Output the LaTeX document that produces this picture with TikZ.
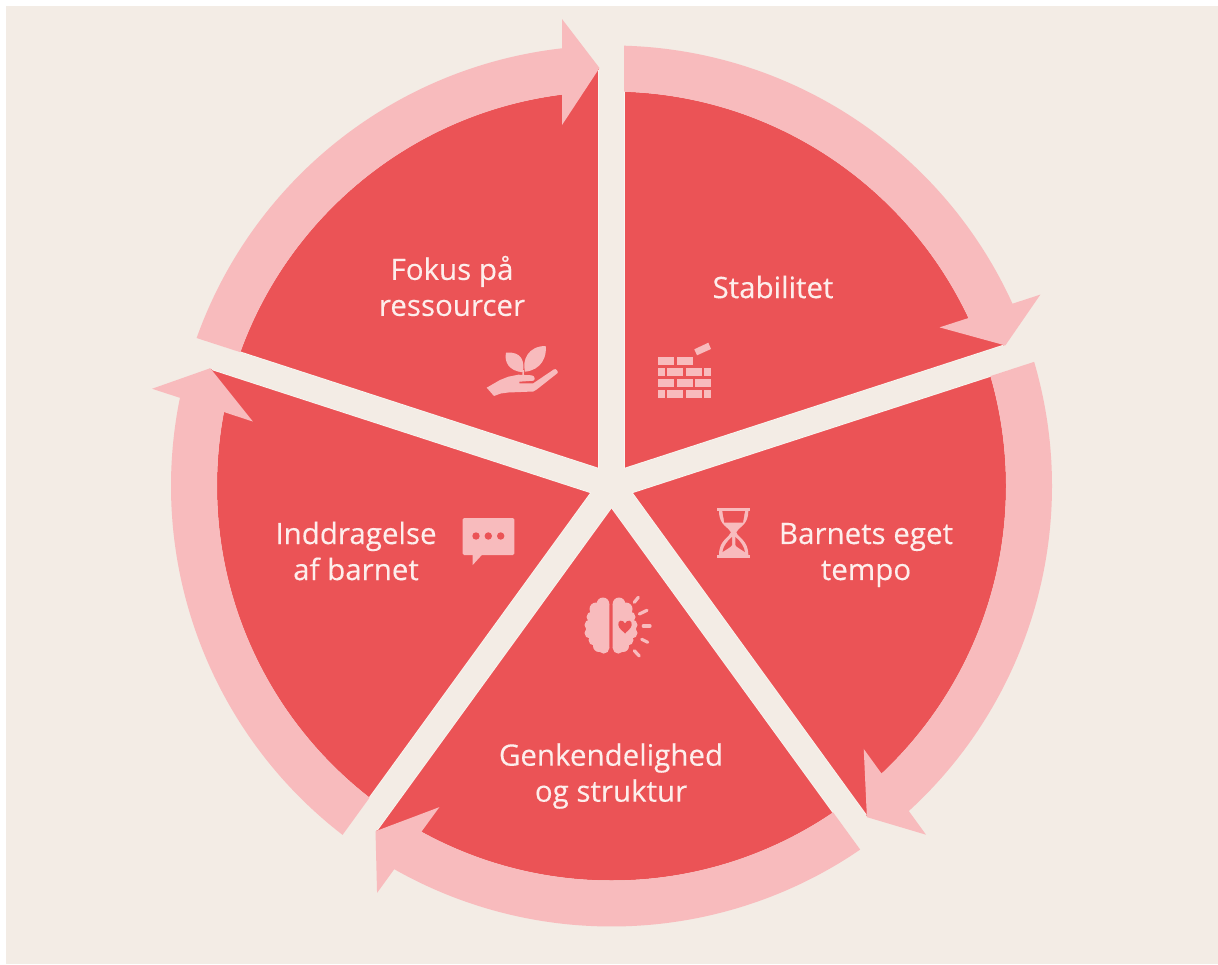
\documentclass[tikz,border=0pt]{standalone}
\usepackage{fontspec}
\setmainfont[FakeBold=0.25]{Open Sans}
\definecolor{paper}{HTML}{F3ECE5}
\definecolor{edge}{HTML}{FAF6F1}
\definecolor{dark}{HTML}{EB5356}
\definecolor{light}{HTML}{F8BBBD}
\definecolor{lettering}{HTML}{FDEEEC}
\tikzset{
  label text/.style={text=lettering, align=center, font=\fontsize{29.5}{36}\selectfont},
  icon/.style={fill=light, draw=none},
  icon hole/.style={fill=dark, draw=none},
  ray/.style={draw=light, line width=3.2pt, line cap=round}
}

\begin{document}
\begin{tikzpicture}[x=1pt, y=-1pt]
  \useasboundingbox (0,0) rectangle (1218,964);
  % paper
  \fill[paper] (6,6) rectangle (1218,964);

  % wheel, y axis points up in here
  \begin{scope}[shift={(611.5,486)}, x=1pt, y=1pt]
    \fill[dark] (0,0) circle (394.5);
    % dark corner under each head
    \foreach \a in {0,72,...,288}
      \fill[dark, rotate=-\a] (-12,419) -- (-12,375) -- (-49.5,361) -- cycle;
    % spokes
    \foreach \a in {18,90,162,234,306}
      \draw[edge, line width=26.5pt] (0,0) -- (\a:416);
    \foreach \a in {18,90,162,234,306}
      \draw[paper, line width=25pt] (0,0) -- (\a:442);
    % ring pieces with their heads
    \foreach \a in {0,72,...,288}
      \fill[light, rotate=-\a] (160.37:440.5) arc (160.37:96.45:440.5)
        -- (-49.5,467) -- (-12,418) -- (-49.5,361)
        -- (97.2:394.5) arc (97.2:160.18:394.5) -- cycle;
  \end{scope}

  % labels
  \node[label text] (fokus) at (452,286) {Fokus på\\ressourcer};
  \node[label text] (stabilitet) at (773,287) {Stabilitet};
  \node[label text] (tempo) at (866,555) {Barnets eget\\tempo};
  \node[label text] (inddragelse) at (356,551) {Inddragelse\\af barnet};
  \node[label text] (struktur) at (611,776) {Genkendelighed\\og struktur};

  % plant on a hand
  \fill[icon] (486.7,387.7) -- (500,380) -- (508.3,376.7) -- (518.3,374.7) -- (531.7,375.3)
    .. controls (535,375.5) and (535.5,380.5) .. (533.3,380.7) -- (519.3,381.7) -- (519.3,383.3)
    -- (533.3,383.3) -- (554,369.3) .. controls (556,368) and (559,372) .. (557.3,373.3)
    -- (536.7,389.5) -- (533.3,391.5) -- (508.3,392.5) -- (500.7,393.5) -- (494,396) -- cycle;
  \fill[icon] (506,352.7) .. controls (522,351) and (525,362) .. (522.7,372.3)
    .. controls (509,371) and (504,362) .. (506,352.7) -- cycle;
  \fill[icon] (545.7,346) .. controls (528,346) and (522,360) .. (525,371.7)
    .. controls (542,370) and (547,356) .. (545.7,346) -- cycle;
  \draw[light, line width=1.5pt] (523.5,370) -- (523,375);

  % bricks
  \foreach \xa/\xb/\ya in {658/674/357.3, 677.3/693/357.3,
      658/665/368, 667.3/683/368, 686/702/368, 704/711/368,
      658/674/379, 677.3/693/379, 695/711/379,
      658/665/390, 667.3/683/390, 686/702/390, 704/711/390}
    \fill[icon] (\xa,\ya) rectangle (\xb,{\ya+7.8});
  \fill[icon] (694.3,349.3) -- (708.3,342.7) -- (711,349) -- (697,355.3) -- cycle;

  % speech bubble
  \fill[icon, rounded corners=1.5pt] (462.7,518) rectangle (514.3,555);
  \fill[icon] (472.7,554) -- (472.7,565) -- (482.7,554) -- cycle;
  \foreach \x in {476,488.3,500.7}
    \fill[icon hole] (\x,536) circle (3.7);

  % hourglass
  \fill[icon] (717.3,508.3) rectangle (750,511);
  \fill[icon] (717.3,555) rectangle (750,557.5);
  \fill[icon] (719,511) .. controls (719,526) and (729,527) .. (731,532.3)
    .. controls (729,538) and (719,540) .. (719,555) -- (748.3,555)
    .. controls (748.3,540) and (738,538) .. (736.3,532.3)
    .. controls (738,527) and (748.3,526) .. (748.3,511) -- cycle;
  \fill[icon hole] (722.3,511) -- (745,511) -- (743,522.7) -- (724.3,522.7) -- cycle;
  \fill[icon hole] (732,537) .. controls (727,541) and (723,547) .. (722.5,552)
    .. controls (727,549) and (731,547) .. (732,545) -- cycle;
  \fill[icon hole] (735.4,537) .. controls (740.4,541) and (744.4,547) .. (744.9,552)
    .. controls (740.4,549) and (736.4,547) .. (735.4,545) -- cycle;

  % brain
  \foreach \s in {-1,1} {
    \begin{scope}[shift={(611,0)}, xscale=\s]
      \fill[icon] (1.7,604) -- (8,603.5) -- (15,609) -- (19,617) -- (21,625) -- (21,633)
        -- (17,640) -- (12,646) -- (7.3,648) -- (1.7,648) -- cycle;
      \foreach \cx/\cy/\rad in {8/603.8/6.3, 15/609/6.5, 19/617/5.5, 21/625/5.5, 21/633/5.5,
          17/640/5.5, 12/646/6, 7.3/648/5.6}
        \fill[icon] (\cx,\cy) circle (\rad);
    \end{scope}
  }
  \fill[icon hole] (625,623.5) .. controls (623,619) and (617.5,620) .. (618.3,625)
    .. controls (619,629) and (623,631) .. (625,633.5)
    .. controls (627,631) and (631,629) .. (631.7,625)
    .. controls (632.5,620) and (627,619) .. (625,623.5) -- cycle;
  \draw[ray] (634.3,602.3) -- (638.3,597.3);
  \draw[ray] (639.3,614) -- (647,610.3);
  \draw[ray] (643.3,626) -- (650,626);
  \draw[ray] (641.7,639.3) -- (647.7,642.3);
  \draw[ray] (634.3,650.7) -- (639.3,656);
\end{tikzpicture}
\end{document}
